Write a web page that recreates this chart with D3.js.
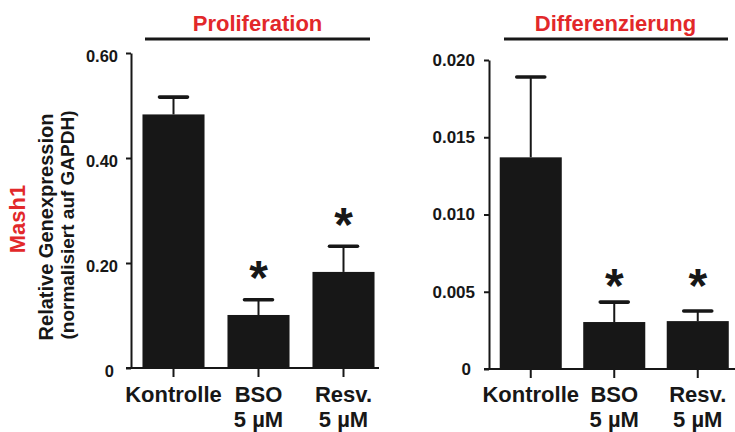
<!DOCTYPE html>
<html>
<head>
<meta charset="utf-8">
<script src="https://cdn.jsdelivr.net/npm/d3@7"></script>
<style>
  html, body { margin: 0; padding: 0; background: #fff; }
  svg { display: block; }
  text { font-family: "Liberation Sans", Arial, Helvetica, sans-serif; font-weight: bold; }
</style>
</head>
<body>
<svg id="chart" width="735" height="432"></svg>
<script>
// ---- data ----
const categories = ["Kontrolle", "BSO\n5 µM", "Resv.\n5 µM"];
const significant = [false, true, true];

const prolifTitle = "Proliferation";
const prolifMean = [0.483, 0.101, 0.183];
const prolifSem  = [0.033, 0.029, 0.049];
const prolifStarAt = [null, 0.19, 0.291];
const prolifTicks = [0, 0.2, 0.4, 0.6];
const prolifTickLabels = ["0", "0.20", "0.40", "0.60"];

const diffTitle = "Differenzierung";
const diffMean = [0.0137, 0.00304, 0.0031];
const diffSem  = [0.0052, 0.00129, 0.00065];
const diffStarAt = [null, 0.0060, 0.0060];
const diffTicks = [0, 0.005, 0.010, 0.015, 0.020];
const diffTickLabels = ["0", "0.005", "0.010", "0.015", "0.020"];

const geneLabel = "Mash1";
const yTitle1 = "Relative Genexpression";
const yTitle2 = "(normalisiert auf GAPDH)";

// ---- drawing ----
const RED = "#e2282a";
const INK = "#171717";
const svg = d3.select("#chart");

const panels = [
  { title: prolifTitle, mean: prolifMean, sem: prolifSem, star: prolifStarAt,
    ticks: prolifTicks, tickLabels: prolifTickLabels, max: 0.6,
    axisX: 131, yTop: 53, yBot: 368, bandEnd: 386, xEnd: 379,
    pad: 0.27, titleX: 257.5, lineX: [145, 370], tickPad: 8, tickFont: 16.5, labelDy: 3 },
  { title: diffTitle, mean: diffMean, sem: diffSem, star: diffStarAt,
    ticks: diffTicks, tickLabels: diffTickLabels, max: 0.02,
    axisX: 489, yTop: 60, yBot: 369, bandEnd: 739.5, xEnd: 735,
    pad: 0.257, titleX: 615.5, lineX: [504, 728], tickPad: 9, tickFont: 17, labelDy: 0 }
];

panels.forEach(p => {
  const g = svg.append("g");
  const y = d3.scaleLinear().domain([0, p.max]).range([p.yBot, p.yTop]);
  const x = d3.scaleBand().domain(categories).range([p.axisX, p.bandEnd])
    .paddingInner(p.pad).paddingOuter(p.pad / 2);

  // title + underline
  g.append("text").attr("x", p.titleX).attr("y", 31).attr("text-anchor", "middle")
    .attr("fill", RED).style("font-size", "22px").text(p.title);
  g.append("line").attr("x1", p.lineX[0]).attr("x2", p.lineX[1]).attr("y1", 39).attr("y2", 39)
    .attr("stroke", INK).attr("stroke-width", 3);

  // bars
  g.selectAll("rect.bar").data(categories).join("rect")
    .attr("class", "bar")
    .attr("x", d => x(d)).attr("width", x.bandwidth())
    .attr("y", (d, i) => y(p.mean[i]))
    .attr("height", (d, i) => y(0) - y(p.mean[i]))
    .attr("fill", INK);

  // error bars
  const eb = g.selectAll("g.eb").data(categories).join("g").attr("class", "eb");
  eb.append("line")
    .attr("x1", d => x(d) + x.bandwidth() / 2).attr("x2", d => x(d) + x.bandwidth() / 2)
    .attr("y1", (d, i) => y(p.mean[i])).attr("y2", (d, i) => y(p.mean[i] + p.sem[i]))
    .attr("stroke", INK).attr("stroke-width", 2);
  eb.append("line")
    .attr("x1", d => x(d) + x.bandwidth() / 2 - 14).attr("x2", d => x(d) + x.bandwidth() / 2 + 14)
    .attr("y1", (d, i) => y(p.mean[i] + p.sem[i])).attr("y2", (d, i) => y(p.mean[i] + p.sem[i]))
    .attr("stroke", INK).attr("stroke-width", 3.6).attr("stroke-linecap", "round");

  // significance stars
  g.selectAll("text.star").data(categories.filter((d, i) => significant[i])).join("text")
    .attr("class", "star")
    .attr("x", d => x(d) + x.bandwidth() / 2)
    .attr("y", d => y(p.star[categories.indexOf(d)]) + 26)
    .attr("text-anchor", "middle").attr("fill", INK)
    .style("font-size", "48px").text("*");

  // y axis
  const ya = g.append("g").attr("transform", `translate(${p.axisX},0)`)
    .call(d3.axisLeft(y).tickValues(p.ticks)
      .tickFormat((d, i) => p.tickLabels[i])
      .tickSize(5).tickSizeOuter(0).tickPadding(p.tickPad));
  ya.select(".domain").attr("stroke", INK).attr("stroke-width", 2);
  ya.selectAll(".tick line").attr("stroke", INK).attr("stroke-width", 2);
  ya.selectAll(".tick text").attr("fill", INK)
    .style("font-size", p.tickFont + "px").style("font-family", null)
    .attr("dy", (0.32) + "em")
    .attr("transform", (d) => `translate(${d === 0 ? -4 : 0},${p.labelDy})`);

  // x axis baseline
  g.append("line").attr("x1", p.axisX - 5).attr("x2", p.xEnd)
    .attr("y1", y(0)).attr("y2", y(0)).attr("stroke", INK).attr("stroke-width", 2.2);

  // x ticks
  const xa = g.append("g").attr("transform", `translate(0,${y(0)})`)
    .call(d3.axisBottom(x).tickSize(9).tickFormat(""));
  xa.select(".domain").remove();
  xa.selectAll(".tick line").attr("stroke", INK).attr("stroke-width", 2);

  // category labels
  const lab = g.selectAll("text.cat").data(categories).join("text")
    .attr("class", "cat").attr("text-anchor", "middle").attr("fill", INK)
    .style("font-size", "22px");
  lab.each(function (d) {
    const t = d3.select(this);
    const cx = x(d) + x.bandwidth() / 2;
    d.split("\n").forEach((s, k) => {
      t.append("tspan").attr("x", cx).attr("y", 402 + k * 25).text(s);
    });
  });
});

// y-axis titles (left panel)
svg.append("text").attr("transform", "translate(25,219) rotate(-90)")
  .attr("text-anchor", "middle").attr("fill", RED).style("font-size", "22px").text(geneLabel);
svg.append("text").attr("transform", "translate(53,227) rotate(-90)")
  .attr("text-anchor", "middle").attr("fill", INK).style("font-size", "20px").text(yTitle1);
svg.append("text").attr("transform", "translate(74,225) rotate(-90)")
  .attr("text-anchor", "middle").attr("fill", INK).style("font-size", "19px").text(yTitle2);
</script>
</body>
</html>
